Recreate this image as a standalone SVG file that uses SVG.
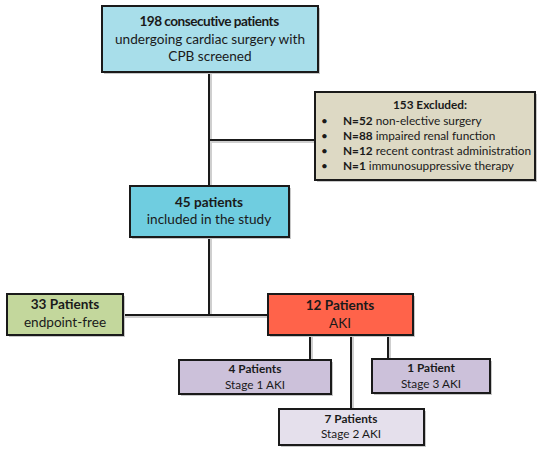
<svg xmlns="http://www.w3.org/2000/svg" width="550" height="453" viewBox="0 0 550 453">
<style>
.box{stroke:#1a1a1a;stroke-width:2}
.sh{fill:#c8c8c8}
.ln{stroke:#1a1a1a;stroke-width:2;fill:none}
.lns{stroke:#cfcfcf;stroke-width:2;fill:none}
text{font-family:Lato,"Open Sans","Liberation Sans",sans-serif;fill:#1a1a1a}
.t{font-size:13.6px;text-anchor:middle}
.s{font-size:11.8px;text-anchor:middle}
.x{font-size:11.8px}
.b{font-weight:bold}
</style>
<rect width="550" height="453" fill="#fff"/>
<g id="connectors">
<path class="lns" d="M211 74V188M211 142H317M211 239V317M125 317H270M312 337V362M353 337V411M390 337V361"/>
<path class="ln" d="M209 72V186M209 140H315M209 237V315M123 315H268M310 335V360M351 335V409M388 335V359"/>
</g>
<g id="n_screened">
<rect class="sh" x="104" y="8" width="216" height="66"/>
<rect class="box" x="102" y="6" width="216" height="66" fill="#A8DEEA"/>
<text class="t b" x="209" y="26" letter-spacing="-0.5">198 consecutive patients</text>
<text class="t" x="210" y="43.5">undergoing cardiac surgery with</text>
<text class="t" x="210" y="61">CPB screened</text>
</g>
<g id="n_excluded">
<rect class="sh" x="317" y="94" width="220" height="88"/>
<rect class="box" x="315" y="92" width="220" height="88" fill="#DDD9C4"/>
<text class="x b" x="430" y="109" text-anchor="middle">153 Excluded:</text>
<text class="x" x="321" y="125">•</text><text class="x" x="343" y="125"><tspan class="b">N=52</tspan> non-elective surgery</text>
<text class="x" x="321" y="140">•</text><text class="x" x="343" y="140"><tspan class="b">N=88</tspan> impaired renal function</text>
<text class="x" x="321" y="155">•</text><text class="x" x="343" y="155"><tspan class="b">N=12</tspan> recent contrast administration</text>
<text class="x" x="321" y="170">•</text><text class="x" x="343" y="170"><tspan class="b">N=1</tspan> immunosuppressive therapy</text>
</g>
<g id="n_included">
<rect class="sh" x="132" y="188" width="159" height="51"/>
<rect class="box" x="130" y="186" width="159" height="51" fill="#6FCDE0"/>
<text class="t b" x="209" y="207">45 patients</text>
<text class="t" x="209" y="224">included in the study</text>
</g>
<g id="n_free">
<rect class="sh" x="9" y="296" width="116" height="41"/>
<rect class="box" x="7" y="294" width="116" height="41" fill="#C3D79C"/>
<text class="t b" x="65" y="309">33 Patients</text>
<text class="t" x="65" y="327">endpoint-free</text>
</g>
<g id="n_aki">
<rect class="sh" x="270" y="296" width="145" height="41"/>
<rect class="box" x="268" y="294" width="145" height="41" fill="#FF634A"/>
<text class="t b" x="340" y="310">12 Patients</text>
<text class="t" x="340" y="328">AKI</text>
</g>
<g id="n_stage1">
<rect class="sh" x="181" y="362" width="152" height="34"/>
<rect class="box" x="179" y="360" width="152" height="34" fill="#CCC1DA"/>
<text class="s b" x="255" y="373">4 Patients</text>
<text class="s" x="255" y="389">Stage 1 AKI</text>
</g>
<g id="n_stage3">
<rect class="sh" x="374" y="361" width="118" height="34"/>
<rect class="box" x="372" y="359" width="118" height="34" fill="#CCC1DA"/>
<text class="s b" x="431" y="372">1 Patient</text>
<text class="s" x="431" y="388">Stage 3 AKI</text>
</g>
<g id="n_stage2">
<rect class="sh" x="281" y="411" width="145" height="36"/>
<rect class="box" x="279" y="409" width="145" height="36" fill="#E5E0EC"/>
<text class="s b" x="351" y="423">7 Patients</text>
<text class="s" x="351" y="438">Stage 2 AKI</text>
</g>
</svg>
